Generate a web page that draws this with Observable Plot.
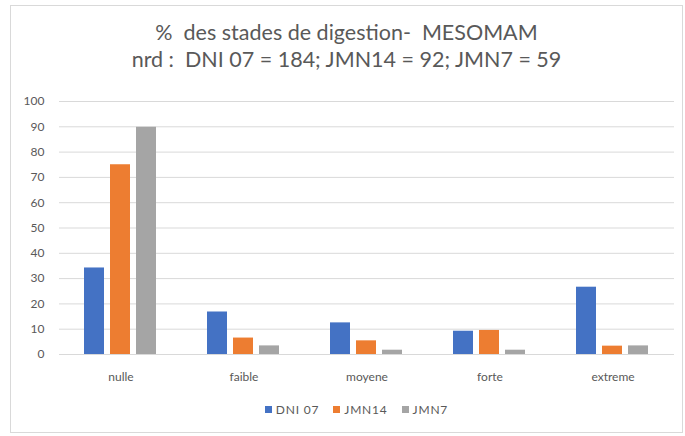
<!DOCTYPE html>
<html>
<head>
<meta charset="utf-8">
<script src="https://cdn.jsdelivr.net/npm/d3@7"></script>
<script src="https://cdn.jsdelivr.net/npm/@observablehq/plot@0.6"></script>
<style>
  html, body { margin: 0; padding: 0; background: #fff; }
  #card { position: absolute; left: 10px; top: 5px; width: 671px; height: 426px; border: 1px solid #d9d9d9; background: #fff; font-family: Lato, "Open Sans", sans-serif; color: #595959; }
  #title { position: absolute; top: 13px; left: 0; width: 100%; text-align: center; font-size: 21.5px; line-height: 27px; color: #595959; }
  #chart { position: absolute; left: 0; top: 75px; }
  #legend { position: absolute; top: 396px; left: 10px; width: 100%; display: flex; justify-content: center; gap: 14px; font-size: 12px; color: #595959; letter-spacing: 0.8px; }
  #legend span.item { display: flex; align-items: center; gap: 4px; }
  #legend span.sw { display: inline-block; width: 7px; height: 7px; }
</style>
</head>
<body>
<div id="card">
  <div id="title">% &nbsp;des stades de digestion- &nbsp;MESOMAM<br>nrd : &nbsp;DNI 07 = 184; JMN14 = 92; JMN7 = 59</div>
  <div id="chart"></div>
  <div id="legend"></div>
</div>
<script>
const categories = ["nulle", "faible", "moyene", "forte", "extreme"];
const seriesNames = ["DNI 07", "JMN14", "JMN7"];
const dni07 = [34.2, 16.8, 12.5, 9.2, 26.6];
const jmn14 = [75.0, 6.5, 5.4, 9.5, 3.3];
const jmn7 = [89.8, 3.4, 1.7, 1.7, 3.4];
const colors = ["#4472C4", "#ED7D31", "#A5A5A5"];
const yTicks = [0, 10, 20, 30, 40, 50, 60, 70, 80, 90, 100];

const seriesValues = [dni07, jmn14, jmn7];
const data = [];
categories.forEach((c, i) => {
  seriesNames.forEach((s, j) => data.push({cat: c, series: s, value: seriesValues[j][i]}));
});

const chart = Plot.plot({
  width: 671,
  height: 310,
  marginTop: 20,
  marginBottom: 37,
  marginLeft: 48,
  marginRight: 8,
  style: {fontFamily: "Lato, 'Open Sans', sans-serif", fontSize: "12px", color: "#595959", background: "transparent"},
  fx: {domain: categories, padding: 0, label: null},
  x: {domain: seriesNames, paddingInner: 0.22, paddingOuter: 0.9, axis: null},
  y: {domain: [0, 100], label: null},
  color: {domain: seriesNames, range: colors},
  marks: [
    Plot.ruleY(yTicks, {stroke: "#d9d9d9", strokeWidth: 1}),
    Plot.barY(data, {fx: "cat", x: "series", y: "value", fill: "series"}),
    Plot.axisY(yTicks, {tickSize: 0, tickPadding: 15, fill: "#595959", fontSize: 12, label: null}),
    Plot.axisFx({anchor: "bottom", tickSize: 0, tickPadding: 18, fill: "#595959", fontSize: 12, label: null})
  ]
});
document.getElementById("chart").appendChild(chart);

const legend = document.getElementById("legend");
seriesNames.forEach((s, j) => {
  const item = document.createElement("span");
  item.className = "item";
  const sw = document.createElement("span");
  sw.className = "sw";
  sw.style.background = colors[j];
  item.appendChild(sw);
  item.appendChild(document.createTextNode(s));
  legend.appendChild(item);
});
</script>
</body>
</html>
